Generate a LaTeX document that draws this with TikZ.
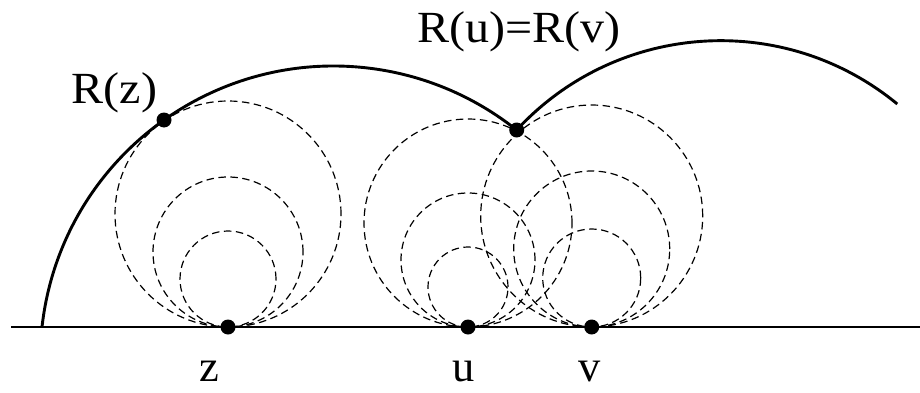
\documentclass[tikz,border=0pt]{standalone}
\usepackage{fontspec}
\setmainfont{Liberation Serif}
\newcommand{\widetext}[1]{\scalebox{1.08}[1]{#1}}
\begin{document}
\begin{tikzpicture}[x=1pt,y=1pt,
  solidline/.style={line width=2.9pt},
  dashcirc/.style={line width=1.2pt, dash pattern=on 7.5pt off 4.5pt},
  dot/.style={circle, fill=black, inner sep=0pt, minimum size=15pt},
  lbl/.style={inner sep=0pt, font=\fontsize{44.5}{44.5}\selectfont}]
\useasboundingbox (0,0) rectangle (920,392);
\coordinate (L) at (11,65);
\coordinate (Rt) at (920,65);
\coordinate (A0) at (42,65);
\coordinate (Pz) at (228,65);
\coordinate (Pu) at (468,65);
\coordinate (Pv) at (591.7,65);
\coordinate (PRz) at (164,272);
\coordinate (PRuv) at (516.7,262);
% baseline
\draw[solidline] (L) -- (Rt);
% dashed circles tangent to the baseline
\foreach \r in {48,75,113} \draw[dashcirc] (228,65+\r) circle[radius=\r];
\foreach \r in {40,67,104} \draw[dashcirc] (468,65+\r) circle[radius=\r];
\foreach \r in {49,78,111} \draw[dashcirc] (591.7,65+\r) circle[radius=\r];
% solid arcs
\draw[solidline] (A0) arc[start angle=173.64, end angle=51.44, radius=293.5];
\draw[solidline] (PRuv) arc[start angle=137.29, end angle=50.53, radius=277.7];
% dots
\node[dot] (z) at (Pz) {};
\node[dot] (u) at (Pu) {};
\node[dot] (v) at (Pv) {};
\node[dot] (Rz) at (PRz) {};
\node[dot] (Ruv) at (PRuv) {};
% labels
\node[lbl, anchor=base west] (lRz) at (71.7,288.7) {\widetext{R(z)}};
\node[lbl, anchor=base west] (lRuv) at (417,349) {\widetext{R(u)=R(v)}};
\node[lbl, anchor=base] (lz) at (209.7,11) {z};
\node[lbl, anchor=base] (lu) at (463.3,11) {u};
\node[lbl, anchor=base] (lv) at (589.5,11) {v};
\end{tikzpicture}
\end{document}
